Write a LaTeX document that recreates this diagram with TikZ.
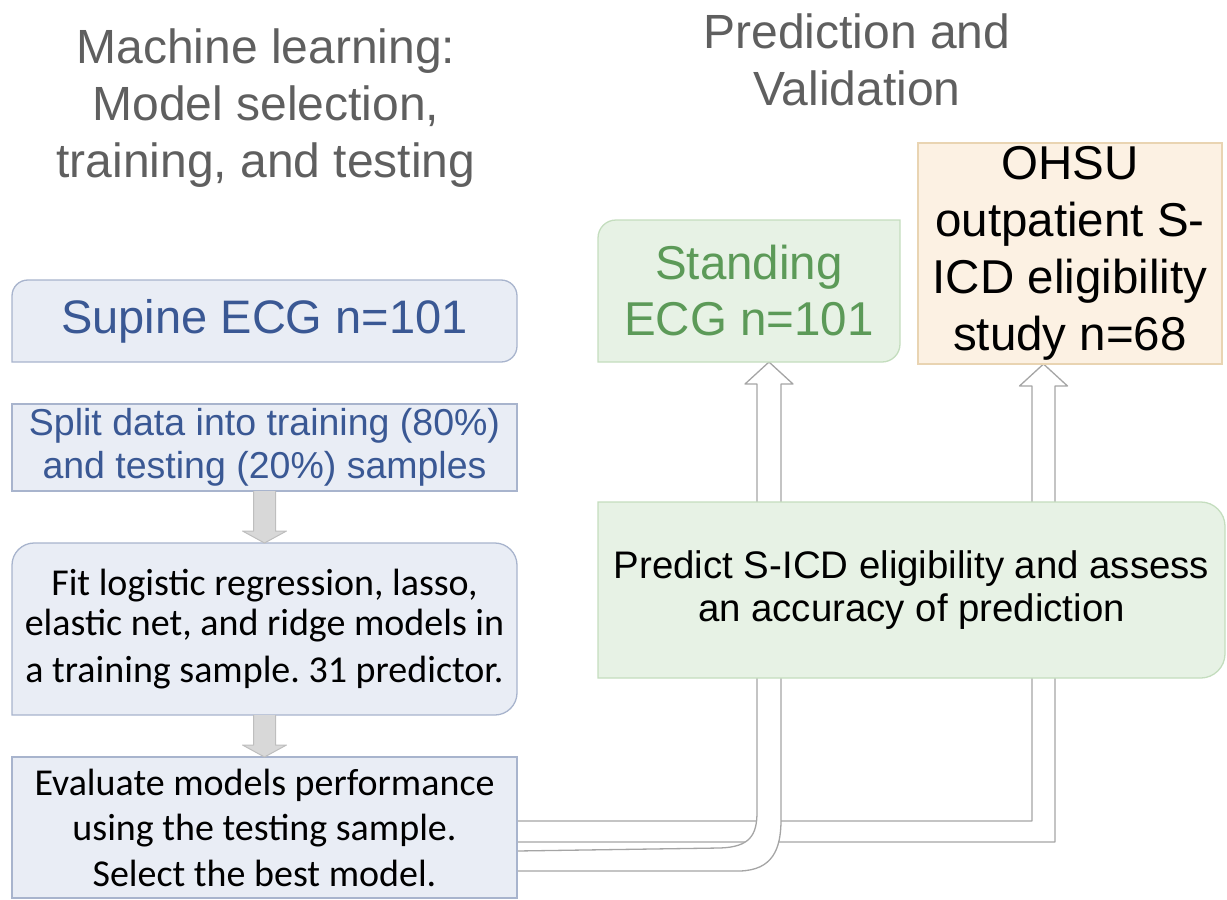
\documentclass[tikz,border=0pt]{standalone}
\usepackage{fontspec}
\newfontfamily\arialf{Liberation Sans}
\newfontfamily\calibf{Carlito}
\usetikzlibrary{calc}
\frenchspacing
\definecolor{titlegray}{RGB}{95,95,95}
\definecolor{bluefill}{RGB}{233,237,245}
\definecolor{blueline}{RGB}{168,180,205}
\definecolor{bluetext}{RGB}{58,88,148}
\definecolor{greenfill}{RGB}{231,242,229}
\definecolor{greenline}{RGB}{196,221,190}
\definecolor{greentext}{RGB}{92,154,88}
\definecolor{peachfill}{RGB}{252,241,227}
\definecolor{peachline}{RGB}{233,212,178}
\definecolor{arrowfill}{RGB}{216,216,216}
\definecolor{arrowline}{RGB}{190,190,190}
\definecolor{hollowline}{RGB}{165,165,165}
\pgfdeclarelayer{back}
\pgfdeclarelayer{mid}
\pgfsetlayers{back,mid,main}
\begin{document}
\begin{tikzpicture}[x=1pt,y=-1pt,
  boxnode/.style={inner sep=0pt, outer sep=0pt, align=center, draw=none},
  titletext/.style={inner sep=0pt, align=center, text=titlegray, font=\arialf\fontsize{48}{57}\selectfont},
  bluebox/.style={fill=bluefill, draw=blueline, line width=1.3pt},
  greenbox/.style={fill=greenfill, draw=greenline, line width=1.3pt},
  peachbox/.style={fill=peachfill, draw=peachline, line width=1.3pt},
  grayarrow/.style={fill=arrowfill, draw=arrowline, line width=1pt, line join=round},
  hollowarrow/.style={fill=white, draw=hollowline, line width=1.3pt, line join=round}]
\useasboundingbox (0,0) rectangle (1227,900);

% titles
\node[titletext] (t1) at (266,108) {Machine learning:\\Model selection,\\training, and testing};
\node[titletext] (t2) at (857,60) {Prediction and\\Validation};

% left column
\node[boxnode, minimum width=505pt, minimum height=82pt, text=bluetext,
  font=\arialf\fontsize{47}{56}\selectfont] (sup) at (264.5,321) {\raisebox{-3pt}{Supine ECG n=101}};
\node[boxnode, minimum width=505pt, minimum height=87pt, text=bluetext,
  font=\arialf\fontsize{37.5}{43}\selectfont] (split) at (264.5,447.5) {Split data into training (80\%)\\and testing (20\%) samples};
\node[boxnode, minimum width=505pt, minimum height=172pt, text=black,
  font=\calibf\fontsize{38}{40}\selectfont] (fit) at (264.5,629) {Fit logistic regression, lasso,\\elastic net, and ridge models in\\[7pt]a training sample. 31 predictor.};
\node[boxnode, minimum width=505pt, minimum height=141pt, text=black,
  font=\calibf\fontsize{38}{45.5}\selectfont] (ev) at (264.5,827.5) {Evaluate models performance\\using the testing sample.\\Select the best model.};

% right column
\node[boxnode, minimum width=302pt, minimum height=142pt, text=greentext,
  font=\arialf\fontsize{47.5}{56}\selectfont] (stand) at (749,291) {Standing\\ECG n=101};
\node[boxnode, minimum width=304pt, minimum height=221pt, text=black,
  font=\arialf\fontsize{47.5}{57}\selectfont] (ohsu) at (1070,253.5) {OHSU\\outpatient S-\\ICD eligibility\\study n=68};
\node[boxnode, minimum width=627pt, minimum height=176pt, text=black,
  font=\arialf\fontsize{38.4}{43}\selectfont] (pred) at (911.5,590) {Predict S-ICD eligibility and assess\\an accuracy of prediction};

\coordinate (ohtip) at ($(ohsu.south)+(-26.5,0)$);
\coordinate (sttip) at ($(stand.south)+(20,0)$);

% box shapes
\begin{pgfonlayer}{mid}
\draw[bluebox] (sup.south west) -- ($(sup.north west)+(0,16)$) .. controls ($(sup.north west)+(0,7)$) and ($(sup.north west)+(7,0)$) .. ($(sup.north west)+(16,0)$)
  -- ($(sup.north east)+(-16,0)$) .. controls ($(sup.north east)+(-7,0)$) and ($(sup.north east)+(0,7)$) .. ($(sup.north east)+(0,16)$)
  -- ($(sup.south east)+(0,-16)$) .. controls ($(sup.south east)+(0,-7)$) and ($(sup.south east)+(-7,0)$) .. ($(sup.south east)+(-16,0)$) -- cycle;
\draw[bluebox] (split.south west) rectangle (split.north east);
\draw[bluebox] (fit.south west) -- ($(fit.north west)+(0,22)$) .. controls ($(fit.north west)+(0,10)$) and ($(fit.north west)+(10,0)$) .. ($(fit.north west)+(22,0)$)
  -- ($(fit.north east)+(-22,0)$) .. controls ($(fit.north east)+(-10,0)$) and ($(fit.north east)+(0,10)$) .. ($(fit.north east)+(0,22)$)
  -- ($(fit.south east)+(0,-22)$) .. controls ($(fit.south east)+(0,-10)$) and ($(fit.south east)+(-10,0)$) .. ($(fit.south east)+(-22,0)$) -- cycle;
\draw[bluebox] (ev.south west) rectangle (ev.north east);
\draw[greenbox] (stand.south west) -- ($(stand.north west)+(0,18)$) .. controls ($(stand.north west)+(0,8)$) and ($(stand.north west)+(8,0)$) .. ($(stand.north west)+(18,0)$)
  -- (stand.north east) -- ($(stand.south east)+(0,-18)$) .. controls ($(stand.south east)+(0,-8)$) and ($(stand.south east)+(-8,0)$) .. ($(stand.south east)+(-18,0)$) -- cycle;
\draw[peachbox] (ohsu.south west) rectangle (ohsu.north east);
\draw[greenbox] (pred.south west) -- (pred.north west) -- ($(pred.north east)+(-24,0)$) .. controls ($(pred.north east)+(-11,0)$) and ($(pred.north east)+(0,11)$) .. ($(pred.north east)+(0,24)$)
  -- ($(pred.south east)+(0,-24)$) .. controls ($(pred.south east)+(0,-11)$) and ($(pred.south east)+(-11,0)$) .. ($(pred.south east)+(-24,0)$) -- cycle;
% gray down arrows
\filldraw[grayarrow] ($(split.south)+(-11,0)$) -- ($(fit.north)+(-11,-12)$) -- ($(fit.north)+(-22,-12)$) -- (fit.north)
  -- ($(fit.north)+(22,-12)$) -- ($(fit.north)+(11,-12)$) -- ($(split.south)+(11,0)$);
\filldraw[grayarrow] ($(fit.south)+(-11,0)$) -- ($(ev.north)+(-11,-12)$) -- ($(ev.north)+(-22,-12)$) -- (ev.north)
  -- ($(ev.north)+(22,-12)$) -- ($(ev.north)+(11,-12)$) -- ($(fit.south)+(11,0)$);
\end{pgfonlayer}

% hollow arrows behind boxes
\begin{pgfonlayer}{back}
\filldraw[hollowarrow] ($(ev.north east)+(0,64)$) -| ($(ohtip)+(-11.5,22)$) -- ($(ohtip)+(-24,22)$) -- (ohtip)
  -- ($(ohtip)+(24,22)$) -- ($(ohtip)+(11.5,22)$) |- ($(ev.north east)+(0,85)$) -- cycle;
\filldraw[hollowarrow] ($(ev.north east)+(0,94)$) -- ($(sttip)+(-49,486)$) .. controls ($(sttip)+(-19,485)$) and ($(sttip)+(-12,473)$) .. ($(sttip)+(-12,450)$)
  -- ($(sttip)+(-12,22)$) -- ($(sttip)+(-24,22)$) -- (sttip) -- ($(sttip)+(24,22)$) -- ($(sttip)+(12,22)$)
  -- ($(sttip)+(12,458)$) .. controls ($(sttip)+(12,488)$) and ($(sttip)+(3,508)$) .. ($(sttip)+(-29,509)$) -- ($(ev.north east)+(0,114)$) -- cycle;
\end{pgfonlayer}
\end{tikzpicture}
\end{document}
